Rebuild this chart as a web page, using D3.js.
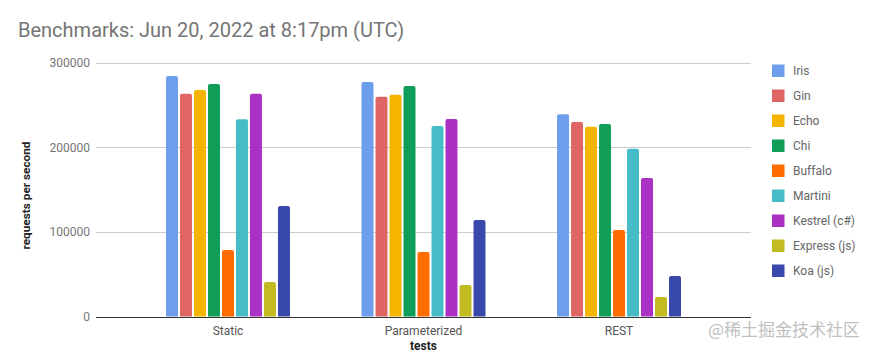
<!DOCTYPE html>
<html><head><meta charset="utf-8">
<script src="https://cdn.jsdelivr.net/npm/d3@7"></script>
<style>body{margin:0;background:#fff;font-family:Roboto,Arial,sans-serif}</style>
</head><body><svg id="c" width="876" height="356"></svg>
<script>
const categories = ["Static", "Parameterized", "REST"];
const seriesNames = ["Iris", "Gin", "Echo", "Chi", "Buffalo", "Martini", "Kestrel (c#)", "Express (js)", "Koa (js)"];
const seriesColors = ["#6d9eeb", "#e06666", "#f4b400", "#0f9d58", "#ff6d00", "#46bdc6", "#ab30c4", "#c2bb22", "#3949ab"];
const iris    = [284000, 277000, 239000];
const gin     = [263000, 259500, 229800];
const echo    = [267500, 262000, 224000];
const chi     = [274500, 272200, 227500];
const buffalo = [78500, 76200, 102200];
const martini = [233000, 225000, 198000];
const kestrel = [263000, 233300, 163600];
const express = [40700, 37200, 23000];
const koa     = [130500, 114000, 47800];
const yTicks  = [0, 100000, 200000, 300000];
const seriesValues = [iris, gin, echo, chi, buffalo, martini, kestrel, express, koa];

const svg = d3.select("#c");
const L = 96, R = 751, T = 62.5, B = 316.5;
const y = d3.scaleLinear().domain([0, 300000]).range([B, T]);
const x0 = d3.scaleBand().domain(categories).range([L, R]).paddingInner(0.366).paddingOuter(0.358);
const x1 = d3.scaleBand().domain(seriesNames).range([0, x0.bandwidth()]).paddingInner(0.143).paddingOuter(0);

svg.append("text").attr("x", 18).attr("y", 37).attr("font-size", 20).attr("fill", "#757575")
  .text("Benchmarks: Jun 20, 2022 at 8:17pm (UTC)");

// gridlines
svg.append("g").selectAll("line").data(yTicks.filter(d => d > 0)).join("line")
  .attr("x1", L).attr("x2", R).attr("y1", d => Math.round(y(d)) + 0.5).attr("y2", d => Math.round(y(d)) + 0.5)
  .attr("stroke", "#cccccc");
svg.append("g").selectAll("text").data(yTicks).join("text")
  .attr("x", 90).attr("y", d => y(d) + 4.5).attr("text-anchor", "end")
  .attr("font-size", 12).attr("fill", "#757575").text(d => d);

// bars
function barPath(x, yt, w, yb, r) {
  r = Math.min(r, (yb - yt));
  return `M${x},${yb}V${yt + r}Q${x},${yt} ${x + r},${yt}H${x + w - r}Q${x + w},${yt} ${x + w},${yt + r}V${yb}Z`;
}
const g = svg.append("g");
categories.forEach((cat, ci) => {
  seriesNames.forEach((s, si) => {
    const v = seriesValues[si][ci];
    const bx = x0(cat) + x1(s);
    g.append("path").attr("d", barPath(bx, y(v), x1.bandwidth(), y(0), 2)).attr("fill", seriesColors[si]);
  });
});

// baseline
svg.append("line").attr("x1", L).attr("x2", R).attr("y1", Math.round(y(0)) + 0.5).attr("y2", Math.round(y(0)) + 0.5)
  .attr("stroke", "#333").attr("stroke-width", 1);

// category labels
svg.append("g").selectAll("text").data(categories).join("text")
  .attr("x", d => x0(d) + x0.bandwidth() / 2).attr("y", 335).attr("text-anchor", "middle")
  .attr("font-size", 12).attr("fill", "#555").text(d => d);

svg.append("text").attr("x", (L + R) / 2).attr("y", 350).attr("text-anchor", "middle")
  .attr("font-size", 12).attr("font-weight", "bold").attr("fill", "#222").text("tests");

svg.append("text").attr("transform", `translate(30,${(T + B) / 2 + 6}) rotate(-90)`).attr("text-anchor", "middle")
  .attr("font-size", 11.8).attr("font-weight", "bold").attr("fill", "#222").text("requests per second");

// legend
const lg = svg.append("g").selectAll("g").data(seriesNames).join("g")
  .attr("transform", (d, i) => `translate(772,${64.5 + i * 25})`);
lg.append("rect").attr("width", 12.5).attr("height", 12.5).attr("fill", (d, i) => seriesColors[i]);
lg.append("text").attr("x", 21).attr("y", 10.5).attr("font-size", 12).attr("fill", "#666").text(d => d);

// watermark
svg.append("text").attr("x", 860).attr("y", 336).attr("text-anchor", "end")
  .attr("font-family", "'Noto Sans CJK SC', sans-serif").attr("font-size", 17).attr("fill", "#c0c0c0")
  .text("@稀土掘金技术社区");
</script></body></html>
